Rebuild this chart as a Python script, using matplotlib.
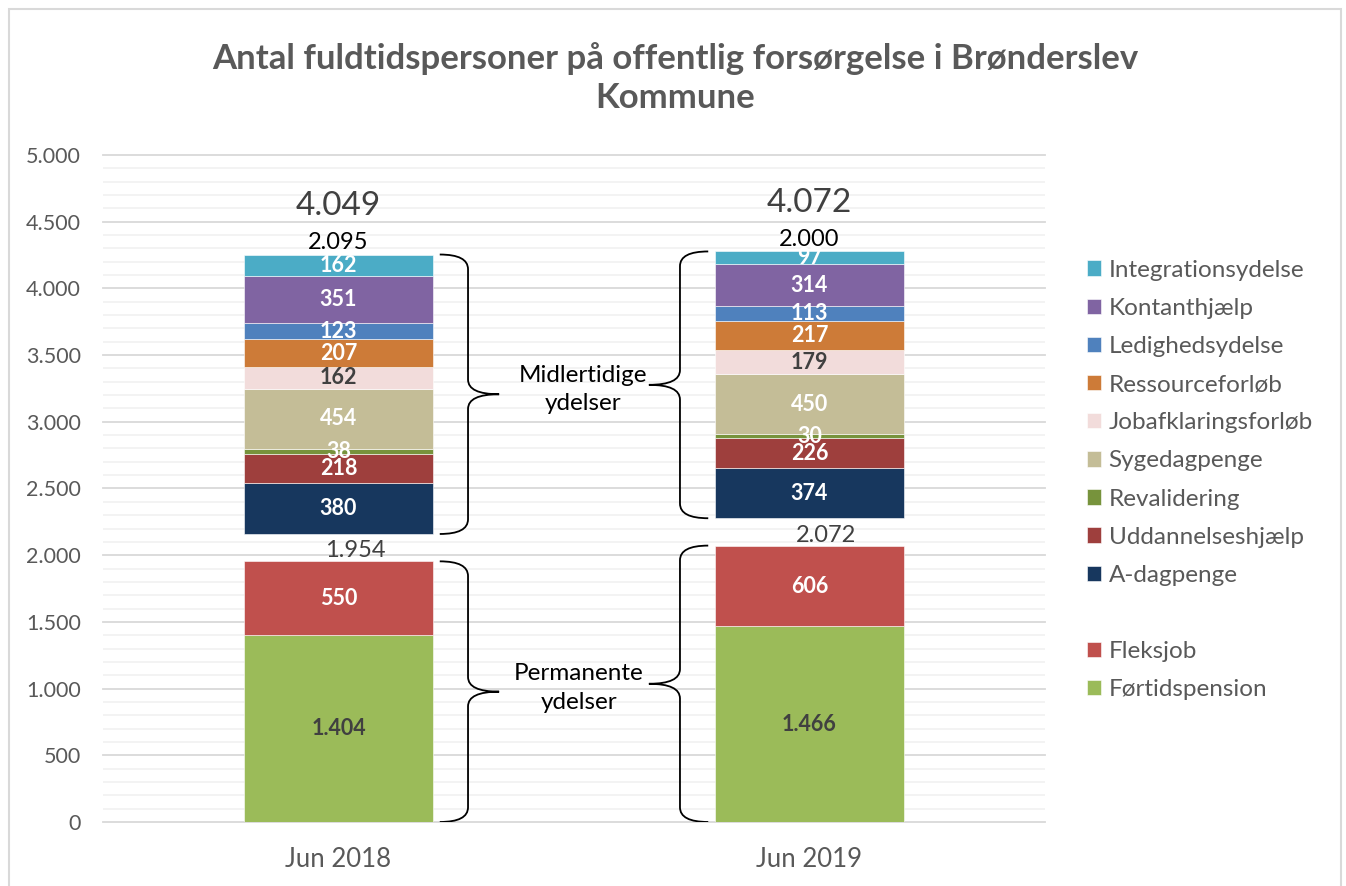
import matplotlib
matplotlib.use("Agg")
import matplotlib.pyplot as plt
import matplotlib.patches as mpatches
from matplotlib.path import Path
import numpy as np

plt.rcParams['font.family'] = ['Lato', 'DejaVu Sans']

# data
years = ["Jun 2018", "Jun 2019"]
perm_names = ["Førtidspension", "Fleksjob"]
perm_vals = [[1404, 1466], [550, 606]]
temp_names = ["A-dagpenge", "Uddannelseshjælp", "Revalidering", "Sygedagpenge",
              "Jobafklaringsforløb", "Ressourceforløb", "Ledighedsydelse",
              "Kontanthjælp", "Integrationsydelse"]
temp_vals = [[380, 374], [218, 226], [38, 30], [454, 450], [162, 179],
             [207, 217], [123, 113], [351, 314], [162, 97]]
gap = [205, 205]  # invisible spacer between the two groups
grand_total = ["4.049", "4.072"]

perm_colors = ["#9BBB59", "#C0504D"]
temp_colors = ["#17375E", "#9E3F3D", "#77933C", "#C4BD97", "#F2DCDB",
               "#CD7B38", "#4F81BD", "#8064A2", "#4BACC6"]
dark_label = {"Førtidspension", "Jobafklaringsforløb"}


def fmt(v):
    return "{:,}".format(int(v)).replace(",", ".")


def brace(ax, x, y0, y1, d, depth, tip, r):
    # curly brace, spine at x, ends point back by depth, tip points out by tip (d = +1 right, -1 left)
    ym = (y0 + y1) / 2
    xe = x - d * depth
    xt = x + d * tip
    verts = [(xe, y1), (x, y1), (x, y1 - r),
             (x, ym + r),
             (x, ym), (xt, ym),
             (x, ym), (x, ym - r),
             (x, y0 + r),
             (x, y0), (xe, y0)]
    codes = [Path.MOVETO, Path.CURVE3, Path.CURVE3,
             Path.LINETO,
             Path.CURVE3, Path.CURVE3,
             Path.CURVE3, Path.CURVE3,
             Path.LINETO,
             Path.CURVE3, Path.CURVE3]
    ax.add_patch(mpatches.PathPatch(Path(verts, codes), fill=False, lw=1.3,
                                    edgecolor="black", capstyle="butt", zorder=4))


fig = plt.figure(figsize=(13.46, 8.86), dpi=100)
ax = fig.add_axes([103/1346, 1 - 822/886, (1045-103)/1346, (822-155)/886])

x = np.arange(len(years))
width = 0.4
bottom = np.zeros(len(years))
handles = {}

for name, vals, col in zip(perm_names, perm_vals, perm_colors):
    b = ax.bar(x, vals, width, bottom=bottom, color=col, edgecolor="white", linewidth=0.4, zorder=3)
    handles[name] = b
    tc = "#404040" if name in dark_label else "white"
    for xi, v, bt in zip(x, vals, bottom):
        ax.text(xi, bt + v / 2, fmt(v), ha="center", va="center", color=tc,
                fontsize=15.5, fontweight="bold", zorder=5)
    bottom = bottom + np.array(vals)
perm_top = bottom.copy()

temp_base = perm_top + np.array(gap)
bottom = temp_base.copy()
for name, vals, col in zip(temp_names, temp_vals, temp_colors):
    b = ax.bar(x, vals, width, bottom=bottom, color=col, edgecolor="white", linewidth=0.4, zorder=3)
    handles[name] = b
    tc = "#404040" if name in dark_label else "white"
    for xi, v, bt in zip(x, vals, bottom):
        ax.text(xi, bt + v / 2, fmt(v), ha="center", va="center", color=tc,
                fontsize=15.5, fontweight="bold", zorder=5)
    bottom = bottom + np.array(vals)
temp_top = bottom.copy()
temp_sum = temp_top - temp_base

for i in range(len(years)):
    ax.annotate(fmt(perm_top[i]), xy=(x[i], perm_top[i]), xytext=(12, 0), textcoords="offset points",
                ha="center", va="bottom", fontsize=17, color="#404040")
    ax.annotate(fmt(temp_sum[i]), xy=(x[i], temp_top[i]), xytext=(0, 1), textcoords="offset points",
                ha="center", va="bottom", fontsize=17, color="black")
    ax.annotate(grand_total[i], xy=(x[i], temp_top[i]), xytext=(0, 24), textcoords="offset points",
                ha="center", va="bottom", fontsize=24, color="#404040")

# braces
half = width / 2
off_sp = 0.075
depth = 0.06
tip = 0.066
r = 110
brace(ax, x[0] + half + off_sp, 0, perm_top[0], +1, depth, tip, r)
brace(ax, x[0] + half + off_sp, temp_base[0], temp_top[0], +1, depth, tip, r)
brace(ax, x[1] - half - off_sp, 0, perm_top[1], -1, depth, tip, r)
brace(ax, x[1] - half - off_sp, temp_base[1], temp_top[1], -1, depth, tip, r)

ax.text(0.52, np.mean((temp_base + temp_top) / 2), "Midlertidige\nydelser", ha="center", va="center",
        fontsize=17.5, color="black", linespacing=1.45)
ax.text(0.51, np.mean(perm_top / 2), "Permanente\nydelser", ha="center", va="center",
        fontsize=17.5, color="black", linespacing=1.45)

ax.set_xlim(-0.5, 1.5)
ax.set_ylim(0, 5000)
ax.set_yticks(np.arange(0, 5001, 500))
ax.set_yticks(np.arange(0, 5001, 100), minor=True)
ax.set_yticklabels([fmt(v) for v in np.arange(0, 5001, 500)])
ax.yaxis.grid(True, which="major", color="#D9D9D9", lw=1.3, zorder=0)
ax.yaxis.grid(True, which="minor", color="#F2F2F2", lw=1.3, zorder=0)
for ln in ax.get_ygridlines():
    ln.set_clip_on(False)
ax.set_xticks(x)
ax.set_xticklabels(years)
ax.tick_params(axis="y", which="both", length=0, labelsize=15.5, labelcolor="#595959", pad=16)
ax.tick_params(axis="x", length=0, labelsize=18.5, labelcolor="#595959", pad=18)
for s in ax.spines.values():
    s.set_visible(False)

# legend
order = temp_names[::-1] + [None] + perm_names[::-1]
leg_h, leg_l = [], []
for n in order:
    if n is None:
        leg_h.append(mpatches.Patch(alpha=0))
        leg_l.append(" ")
    else:
        leg_h.append(handles[n])
        leg_l.append(n)
fig.legend(leg_h, leg_l, loc="upper left", bbox_to_anchor=(1077/1346, 1 - 250/886), frameon=False,
           fontsize=17.5, labelcolor="#595959", handlelength=0.6, handleheight=0.6,
           handletextpad=0.3, labelspacing=0.705, borderaxespad=0)

fig.text(675/1346, 1 - 78/886, "Antal fuldtidspersoner på offentlig forsørgelse i Brønderslev\nKommune",
         ha="center", va="center", fontsize=25, fontweight="bold", color="#595959", linespacing=1.3)

fig.patches.append(mpatches.Rectangle((9/1346, -0.02), (1341-9)/1346, 1.02 - 9/886,
                                      transform=fig.transFigure, fill=False,
                                      edgecolor="#D9D9D9", lw=1.5))

fig.savefig("out.png", dpi=100)
